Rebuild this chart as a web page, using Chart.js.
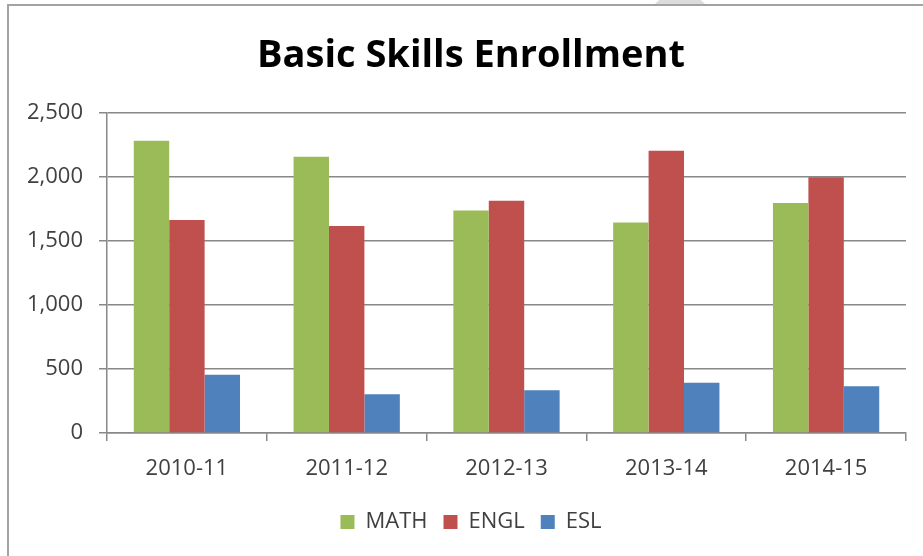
<!DOCTYPE html>
<html><head><meta charset="utf-8">
<script src="https://cdn.jsdelivr.net/npm/chart.js@4"></script>
<style>
html,body{margin:0;padding:0;background:#fff;overflow:hidden;width:923px;height:556px;position:relative;}
#blob{position:absolute;left:646px;top:-7px;width:68px;height:68px;border-radius:50%;background:#dcdcdc;}
#frame{position:absolute;left:7px;top:4px;width:1000px;height:700px;border-left:2px solid #a3a3a3;border-top:2px solid #a3a3a3;background:#fff;}
canvas{position:absolute;left:0;top:0;}
</style></head>
<body>
<div id="blob"></div><div id="frame"></div>
<canvas id="c" width="942" height="556"></canvas>
<script>
const categories = ['2010-11', '2011-12', '2012-13', '2013-14', '2014-15'];
const mathValues = [2280, 2155, 1737, 1643, 1794];
const englValues = [1662, 1615, 1813, 2203, 1995];
const eslValues = [455, 302, 333, 393, 365];
const seriesNames = ['MATH', 'ENGL', 'ESL'];
const yMin = 0, yMax = 2500, yStep = 500;

function draw() {
  const tickFont = {family: 'Open Sans', size: 22};
  new Chart(document.getElementById('c'), {
    type: 'bar',
    data: {
      labels: categories,
      datasets: [
        {label: seriesNames[0], data: mathValues, backgroundColor: '#9BBB59'},
        {label: seriesNames[1], data: englValues, backgroundColor: '#C0504D'},
        {label: seriesNames[2], data: eslValues, backgroundColor: '#4F81BD'}
      ]
    },
    options: {
      responsive: false,
      animation: false,
      locale: 'en-US',
      datasets: {bar: {categoryPercentage: 0.665, barPercentage: 1}},
      layout: {padding: {left: 0, right: 0, top: 0, bottom: 13}},
      plugins: {
        title: {display: true, text: 'Basic Skills Enrollment', color: '#000',
          font: {family: 'Open Sans', size: 38, weight: 'bold'}, padding: {top: 33, bottom: 34}},
        legend: {position: 'bottom', labels: {boxWidth: 14, boxHeight: 14, padding: 16,
          color: '#404040', font: tickFont}},
        tooltip: {enabled: false}
      },
      scales: {
        x: {
          grid: {display: true, drawOnChartArea: false, drawTicks: true, tickLength: 8, color: '#888888', lineWidth: 1.5, offset: true},
          border: {color: '#888888', width: 1.5},
          ticks: {color: '#404040', font: tickFont, padding: 15},
          afterFit: s => { s.height = 62; }
        },
        y: {
          min: yMin, max: yMax,
          ticks: {stepSize: yStep, color: '#404040', font: tickFont, padding: 16},
          grid: {color: '#888888', lineWidth: 1.5, tickLength: 8},
          border: {color: '#888888', width: 1.5},
          afterFit: s => { s.width = 107; }
        },
        y2: {
          type: 'linear', position: 'right', display: true,
          grid: {display: false}, ticks: {display: false}, border: {display: false},
          afterFit: s => { s.width = 36; }
        }
      }
    }
  });
}
Promise.all([
  document.fonts.load('22px "Open Sans"'),
  document.fonts.load('bold 38px "Open Sans"')
]).then(draw, draw);
</script>
</body></html>
